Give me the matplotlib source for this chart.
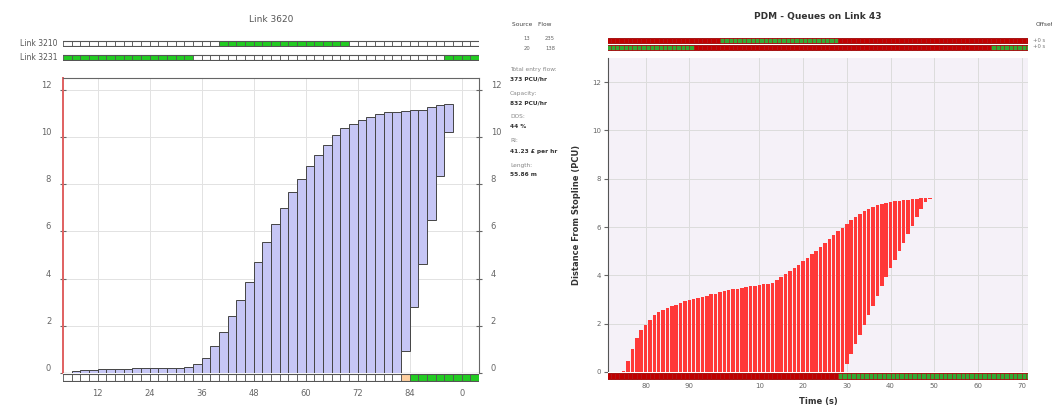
import matplotlib
matplotlib.use('Agg')
import matplotlib.pyplot as plt
import numpy as np

# ---- data: left panel (Link 3620 cyclic flow profile), 2 s bars ----
left_t = [4, 6, 8, 10, 12, 14, 16, 18, 20, 22, 24, 26, 28, 30, 32,
          34, 36, 38, 40, 42, 44, 46, 48, 50, 52, 54, 56, 58, 60, 62,
          64, 66, 68, 70, 72, 74, 76, 78, 80, 82, 84, 86, 88, 90, 92]
left_top = [0.02, 0.08, 0.12, 0.14, 0.15, 0.16, 0.17, 0.18, 0.22, 0.22, 0.22, 0.23, 0.23, 0.23, 0.24,
            0.38, 0.63, 1.14, 1.73, 2.4, 3.1, 3.87, 4.7, 5.55, 6.32, 7.0, 7.66, 8.2, 8.76, 9.25,
            9.67, 10.07, 10.38, 10.56, 10.73, 10.85, 10.97, 11.04, 11.08, 11.12, 11.15, 11.15, 11.27, 11.37, 11.41]
left_bot = [0] * 39 + [0.95, 2.8, 4.6, 6.48, 8.34, 10.21]
left_xticks = [12, 24, 36, 48, 60, 72, 84, 96]
left_xlabels = ['12', '24', '36', '48', '60', '72', '84', '0']
link3210_green = [(40, 70)]
link3231_green = [(4, 34), (92, 100)]
stop_amber = [(82, 84)]
stop_green = [(84, 100)]

info_lines = [('Total entry flow:', '373 PCU/hr'), ('Capacity:', '832 PCU/hr'),
              ('DOS:', '44 %'), ('RI:', '41.23 £ per hr'), ('Length:', '55.86 m')]
sources = [('13', '235'), ('20', '138')]

# ---- data: right panel (PDM queues on link 43), 1 s bars ----
right_t = list(range(75, 146))
right_top = [0.05, 0.45, 0.95, 1.4, 1.75, 1.95, 2.15, 2.35, 2.48, 2.57,
             2.65, 2.72, 2.79, 2.86, 2.92, 2.97, 3.02, 3.07, 3.12, 3.16,
             3.21, 3.25, 3.3, 3.34, 3.38, 3.42, 3.45, 3.48, 3.51, 3.54,
             3.57, 3.6, 3.63, 3.66, 3.7, 3.8, 3.92, 4.04, 4.17, 4.31,
             4.45, 4.59, 4.74, 4.88, 5.02, 5.18, 5.34, 5.5, 5.66, 5.82,
             5.98, 6.14, 6.29, 6.42, 6.55, 6.66, 6.75, 6.84, 6.91, 6.97,
             7.01, 7.05, 7.08, 7.1, 7.12, 7.14, 7.16, 7.17, 7.19, 7.2, 7.21]
right_bot = [0] * 50 + [0.0, 0.35, 0.75, 1.15, 1.55, 1.95, 2.35, 2.75, 3.15, 3.55,
                        3.95, 4.3, 4.65, 5.0, 5.35, 5.7, 6.05, 6.4, 6.75, 7.05, 7.18]
right_xticks = [80, 90, 106, 116, 126, 136, 146, 156, 166]
right_xlabels = ['80', '90', '10', '20', '30', '40', '50', '60', '70']
row1_green = [(97, 124)]
row2_green = [(71, 91), (159, 168)]
bottom_green = [(124, 168)]

W, H = 1052, 405
fig = plt.figure(figsize=(W / 100, H / 100), dpi=100)
plt.rcParams['font.family'] = 'DejaVu Sans'


def box(x0, y0, x1, y1):
    return [x0 / W, 1 - y1 / H, (x1 - x0) / W, (y1 - y0) / H]


def strip(rect, t0, t1, step, base, colors_list, edge, lw=0.6):
    a = fig.add_axes(box(*rect))
    starts = np.arange(t0, t1, step)
    cols = []
    for s in starts:
        c = base
        for ivs, col in colors_list:
            for lo, hi in ivs:
                if lo <= s < hi:
                    c = col
        cols.append(c)
    a.bar(starts, 1, width=step, align='edge', color=cols, edgecolor=edge, linewidth=lw)
    a.axhline(0, color=edge, linewidth=lw + 0.2)
    a.axhline(1, color=edge, linewidth=lw + 0.2)
    a.set_ylim(-0.1, 1.1)
    a.set_axis_off()
    return a


# ================= left panel =================
L0, L1 = 4, 100
ax = fig.add_axes(box(63, 78, 479, 373))
heights = [t - b for t, b in zip(left_top, left_bot)]
ax.bar(left_t, heights, bottom=left_bot, width=2, align='edge',
       color='#c6c6f5', edgecolor='#444444', linewidth=0.7, zorder=3)
ax.set_xlim(L0, L1)
ax.set_ylim(0, 12.5)
ax.set_yticks(range(0, 13, 2))
ax.set_xticks(left_xticks)
ax.grid(True, color='#e2e2e2', linewidth=0.7, zorder=0)
ax.tick_params(axis='x', length=0, labelbottom=False)
ax.tick_params(axis='y', labelsize=6, colors='#666666', left=True, right=True,
               labelright=True, direction='inout', length=5, pad=6)
for lab in ax.get_yticklabels():
    lab.set_verticalalignment('bottom')
for s in ['top', 'right', 'bottom']:
    ax.spines[s].set_color('#666666')
ax.spines['left'].set_color('#e06060')
ax.spines['left'].set_linewidth(1.4)
fig.text(271 / W, 1 - 20 / H, 'Link 3620', fontsize=6.5, color='#555555', ha='center', va='center')

sb = strip((63, 373, 479, 382), L0, L1, 2, 'white',
           [(stop_amber, '#ffd0a0'), (stop_green, '#22cc22')], '#555555')
sb.set_axis_on()
sb.set_xlim(L0, L1)
sb.set_xticks(left_xticks)
sb.set_xticklabels(left_xlabels)
sb.set_yticks([])
sb.tick_params(axis='x', labelsize=6, colors='#666666', length=0, pad=5)
for s in sb.spines.values():
    s.set_visible(False)

r1 = strip((63, 40, 479, 47), L0, L1, 2, 'white', [(link3210_green, '#22cc22')], '#555555')
r1.set_xlim(L0, L1)
r2 = strip((63, 54, 479, 61), L0, L1, 2, 'white', [(link3231_green, '#22cc22')], '#555555')
r2.set_xlim(L0, L1)
fig.text(58 / W, 1 - 43.5 / H, 'Link 3210', fontsize=5.5, color='#555555', ha='right', va='center')
fig.text(58 / W, 1 - 57.5 / H, 'Link 3231', fontsize=5.5, color='#555555', ha='right', va='center')

# info column
fig.text(512 / W, 1 - 25 / H, 'Source   Flow', fontsize=4.2, color='#444444', va='center')
for i, (src, flw) in enumerate(sources):
    y = 39 + i * 9
    fig.text(527 / W, 1 - y / H, src, fontsize=3.8, color='#666666', ha='center', va='center')
    fig.text(550 / W, 1 - y / H, flw, fontsize=3.8, color='#666666', ha='center', va='center')
for i, (k, v) in enumerate(info_lines):
    y = 69 + i * 24
    fig.text(510 / W, 1 - y / H, k, fontsize=4.2, color='#888888', va='center')
    fig.text(510 / W, 1 - (y + 10) / H, v, fontsize=4.2, color='#333333', va='center', weight='bold')

# ================= right panel =================
R0, R1 = 71.4, 167.4
bx = fig.add_axes(box(608, 58, 1028, 372))
bx.set_facecolor('#f5f1f8')
rh = [t - b for t, b in zip(right_top, right_bot)]
bx.bar(right_t, rh, bottom=right_bot, width=0.8, color='#ff3838', edgecolor='none', zorder=3)
bx.set_xlim(R0, R1)
bx.set_ylim(0, 13)
bx.set_yticks(range(0, 13, 2))
bx.set_xticks(right_xticks)
bx.grid(True, color='#dcdcdc', linewidth=0.7, zorder=0)
bx.tick_params(axis='x', length=0, labelbottom=False)
bx.tick_params(axis='y', labelsize=5, colors='#666666', length=3, pad=2)
for s in ['top', 'right', 'bottom']:
    bx.spines[s].set_visible(False)
bx.spines['left'].set_color('#555555')
bx.set_ylabel('Distance From Stopline (PCU)', fontsize=6, weight='bold', color='#333333', labelpad=8)
fig.text(818 / W, 1 - 17 / H, 'PDM - Queues on Link 43', fontsize=6.5, weight='bold',
         color='#333333', ha='center', va='center')

rb = strip((608, 372, 1028, 380), 71, 168, 1, '#c00000', [(bottom_green, '#33aa33')], '#a31010', 0.4)
rb.set_axis_on()
rb.set_xlim(R0, R1)
rb.set_xticks(right_xticks)
rb.set_xticklabels(right_xlabels)
rb.set_yticks([])
rb.tick_params(axis='x', labelsize=5, colors='#666666', length=0, pad=2)
for s in rb.spines.values():
    s.set_visible(False)
rb.set_xlabel('Time (s)', fontsize=6, weight='bold', color='#333333', labelpad=6)

q1 = strip((608, 37, 1028, 44), 71, 168, 1, '#c00000', [(row1_green, '#33aa33')], '#a31010', 0.4)
q1.set_xlim(R0, R1)
q2 = strip((608, 44, 1028, 51), 71, 168, 1, '#c00000', [(row2_green, '#33aa33')], '#a31010', 0.4)
q2.set_xlim(R0, R1)
fig.text(1033 / W, 1 - 40 / H, '+0 s', fontsize=3.8, color='#777777', va='center')
fig.text(1033 / W, 1 - 47 / H, '+0 s', fontsize=3.8, color='#777777', va='center')
fig.text(1036 / W, 1 - 25 / H, 'Offset', fontsize=4.2, color='#444444', va='center')

fig.savefig('out.png', dpi=100)
